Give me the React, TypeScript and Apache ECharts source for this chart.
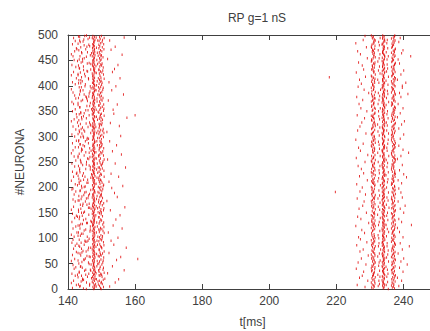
import React, { useEffect, useRef } from "react";
import * as echarts from "echarts";

const chartTitle = "RP g=1 nS";
const xName = "t[ms]";
const yName = "#NEURONA";
const xMin = 140;
const xMax = 250;
const xStep = 20;
const yMin = 0;
const yMax = 500;
const yStep = 50;

// Spike bands: each character is one neuron slot (bottom to top, 2 neurons per slot).
// Character 0-9a-z = position of the spike inside [start, end] (36 levels), "." = no spike.
const burst1L1 = { start: 141.0, end: 146.8, rows: [
  "r2.g9x0.4mk.t7b1e.zq5.8h3w.j0n6.ys2.c9l.4vf7.a1pu3",
  "w.5c0ia.ny3.8f.kt1z.q6b9.2md.0hx4.sl.7e3r.jv5.o8g1",
  "3.pb7.ue0m.z4k.9a2.yf.6wr1.h8.tc5n.0qi3.x7.lg2.d9sv",
  "m6.1j.oe8.k3zy.b0.5ra.w9h.2u7.fx.4c1t.s8.q6n.3gl0.i",
  "y.7d2.hv9.p0c.4sm.e8.1zw.b5k.r3.0jt6.a9.xn2.g7.u4fo",
] };
const burst1L2 = { start: 143.0, end: 147.0, rows: [
  "e.4u1.m8c.z0.9ks.3hw.b6.y2r.0fj.t7.5al.q9x.2g.8ni3.",
  ".o6.d1v.k5.w0.7mz.e3.4bs.9h.1yr.c6t.j0.8q.2fu.l5x.a",
  "g9.3n.7p2.i0.ze5.4k.w1c.8m.6s.v0.3t.yb9.1h.5r.j2.o7",
  "d.0x4.f8.q1.6lu.2a.9e.3g7.kz.5n0.w.8c.1ms.4t.v6.y3i",
  ".j7.b2.r9.0h.6p.x4.e1.o8c.3g.5w.z9.2k.7n.s0.d4f.u1m",
] };
const burst1Core = { start: 146.6, end: 148.8, rows: [
  "hkdmjqfaleoibngkcpjhmdlfgiekbjhnclfmdkgajehlcinfkb",
  "gjdmelhakfinbgcjekhldmfiagjcknehbldgmjfkaiechnjldg",
  "fkbmhjeldgcnakfihbjmedlgkfcjhnaeiblkgdmfjchelnkbig",
  "djhkfmaelgbincjkhfdmleagjbkhcnfidlegmjakbhfcilnejd",
  "mkgbhjfdlecianjkgmhfbldejcgkianhfmdjlbekgcihjnfald",
] };
const burst1Mid = { start: 148.3, end: 149.6, rows: [
  "..3.k..h.5...q.2..m...8.f..b....j.6...r..1.d...9..",
  ".g...4..n..c...7....p.0..i...e.3...l..5..a...h....",
  "k..2...o.9....f..6.j...b....4..m..1...s..c...8..e.",
  "...7.h...0..q...d..5....i.3...n...a..9...g...2..l.",
  "6...b..k....4..p...1.e...8...j..c....5..o...f..3..",
] };
const burst1R = { start: 149.2, end: 151.6, rows: [
  "a7k3.f9b2jq.e5c8n1.i4k6.d0h3j9.l2a7g5n.1db8m4.k0c6",
  "e3g9.n2i5d7m.h1l4c8.0g.a3b6k9m2.f5l7c0.g4a8b1.d6h3",
  "9jl5e2a7.0n4b8.1m6f3.c9g5i2n7.0k4d8h1.l6c3e9a5.b2k",
  "7d0m4h8j1.3c6e.9g2a5n7b0.k4m8f1l6.3e9i5b2.7d0h4j8.",
  "c1e6a3n9.5k2d7h0.j4c8e1.6a3i9b5.2d7m0f4.l8e1g6n3b",
] };
const burst1Tail = { start: 151.6, end: 158.8, rows: [
  "..4...c..h.....1..p...8.....e..k...3....s..a...6..",
  "g....2...m..9.....d...j....5..q.....0...f...b....7",
  ".n...3....h..6.....r...c...1....l..8.....e...4....",
  "k...0.....i..5....t...a...9....f...2.....o...7...d",
  "...3...j.....8..b...g.....1...m....6..c.....4..p..",
] };
const burst2E = { start: 225.8, end: 230.6, rows: [
  "..k.3...q..8.e...h..1...m.5...c..r...9.g...2..o..a",
  ".6...j..d...0..s...b.4...n...7..f...i..3...l..9...",
  "e..2...p...8..h...c..5...k...1..q...a..6...g...0..",
  "...m..4...9...d...j..3...o..b...7...f..2...s..i..5",
  "..c...8..l...1..h...e..6...p...a..4...n...0..g...k",
] };
const burst2F = { start: 229.5, end: 232.7, rows: [
  "gbkhdmalfjcnehgikbdlamfchjnekgbidmalhfcjkenbgdilah",
  "mfkcjb.eglahndikfbmcgjealhkd.nfibgmcjaekhldnbfigck",
  "dalmhejbgfk.cnidahmblgfejkcandhibm.gfkeljcahdnbgimf",
  "kjcaeh.lbdgnfmikcbjheaglm.dfnkbcihjaegmlfdkb.nchiaj",
  "geflbkdmhcan.ijgbfkedlhmacbgni.jfkdhelbamcgjinkfdha",
] };
const burst2M2 = { start: 232.3, end: 233.5, rows: [
  "...5.g..b...k.2...h....9..d.m...1..f...q..7..c....",
  "a..4...j.....8..e...n..0....i..6...l...3..h....b..",
  "..o...2..9....f..c...k...5.....m..1...g...d..7....",
  ".e...3...j..0....h..a....8..n...4...c...i..6..p...",
  "...b..1.....l..7...g....2..d...k...5....f..9...m..",
] };
const burst2Core = { start: 233.0, end: 235.2, rows: [
  "ifkcmhdgajlebnkgicfhmdajelbhkgnfciadmjekhlbgfacind",
  "jhcekfmbgalidnhcjkfebmgdialhcnkjbfgemadhlcikgbjfna",
  "ehkbdjlgafcminehkjdgblafcmhineckgjdbaflhmkcegijdbn",
  "lcgaihkfdbmejnclgkahidfmbejcnlhgkaidfebmjclhgnkadi",
  "bgmjdeckhfialnbgjmcdkehfailbnmjgcdehkfliabgnjmcekd",
] };
const burst2M3 = { start: 234.8, end: 236.0, rows: [
  "k...2..e....7..h...c..0....m...5..f...j...9..a....",
  "..4...n..b...1....g...6..d....q..3...i..8....l....",
  "5....c..h...0..k....9...e..2...o....a..7...f...j..",
  "...m..6....b..3...i...8..d.....1..n...4...g..c....",
  ".h...0...l....5..e...a....9..k...2...f....7..b....",
] };
const burst2H = { start: 235.5, end: 238.7, rows: [
  "kdhaifcmgbjelnhcfkadigmbejchnlfakdgimbhcejfnlkagdi",
  "bmhjcefgkaldinbhfmjcegkdailnhbfjmcgekdalbihnfcjmge",
  "lkadbhifcgmejnkdlahbifcgjmenkhdlbaicfgjmekhndlaibf",
  "gaekdmbhjcfilnagkdembhcjfilgnkaedbmhjcfignlakdhebm",
  "jfcialgnkbdhemcjfiagklnbdhecjmfiakglnbdehcjfmiagkl",
] };
const burst2Tail = { start: 238.2, end: 245.5, rows: [
  "...2....6..0.....8...3..e..5..9....1...7..h..4....",
  ".8....3...0..k..6..2.....9...4..b...1...7....5...2",
  "....6..1..d..9...3....7.....0..5..g..8...2......4.",
  "..9.....2...6..a...0...4....8...1......5..f3....7.",
  "7..c..0....5...9......3...1..j..6..8.......2...4..",
] };
const strayTimes = [217.9, 219.7, 160.8, 160.0];
const strayNeurons = [417, 191, 59, 342];

const bands = [
  burst1L1, burst1L2, burst1Core, burst1Mid, burst1R, burst1Tail,
  burst2E, burst2F, burst2M2, burst2Core, burst2M3, burst2H, burst2Tail,
];
const LEVELS = "0123456789abcdefghijklmnopqrstuvwxyz";

function decodeBand(band: { start: number; end: number; rows: string[] }, parity: number) {
  const s = band.rows.join("");
  const pts: number[][] = [];
  for (let i = 0; i < s.length; i++) {
    const lv = LEVELS.indexOf(s[i]);
    if (lv < 0) continue;
    const t = band.start + (lv * (band.end - band.start)) / (LEVELS.length - 1);
    const n = Math.min(500, Math.round((i * 500) / s.length) + parity);
    pts.push([t, n]);
  }
  return pts;
}

export default function App() {
  const ref = useRef<HTMLDivElement>(null);
  useEffect(() => {
    if (!ref.current) return;
    const chart = echarts.init(ref.current, undefined, { renderer: "svg" });
    const data: number[][] = [];
    bands.forEach((b, k) => data.push(...decodeBand(b, k % 2)));
    strayTimes.forEach((t, i) => data.push([t, strayNeurons[i]]));
    const font = "Liberation Sans, Arial, sans-serif";
    const textColor = "#404040";
    const axisColor = "#404040";
    chart.setOption({
      animation: false,
      backgroundColor: "#ffffff",
      title: {
        text: chartTitle,
        left: 252,
        textAlign: "center",
        top: 7,
        textStyle: { fontSize: 12, fontWeight: "normal", color: textColor, fontFamily: font },
      },
      grid: { left: 68, top: 35, bottom: 42, right: -7, containLabel: false, outerBoundsMode: "none" },
      xAxis: [
        {
          type: "value",
          min: xMin,
          max: xMax,
          interval: xStep,
          position: "bottom",
          name: xName,
          nameLocation: "middle",
          nameGap: 27,
          nameTextStyle: { fontSize: 12, color: textColor, fontFamily: font },
          axisLine: { show: true, onZero: false, lineStyle: { color: axisColor, width: 1 } },
          axisTick: { show: true, inside: true, length: 5, lineStyle: { color: axisColor } },
          axisLabel: { color: textColor, fontSize: 12, fontFamily: font, margin: 6, showMaxLabel: false },
          splitLine: { show: false },
        },
        {
          type: "value",
          min: xMin,
          max: xMax,
          interval: xStep,
          position: "top",
          axisLine: { show: true, onZero: false, lineStyle: { color: axisColor, width: 1 } },
          axisTick: { show: true, inside: true, length: 5, lineStyle: { color: axisColor } },
          axisLabel: { show: false },
          splitLine: { show: false },
        },
      ],
      yAxis: {
        type: "value",
        min: yMin,
        max: yMax,
        interval: yStep,
        name: yName,
        nameLocation: "middle",
        nameRotate: 90,
        nameGap: 42,
        nameTextStyle: { fontSize: 12, color: textColor, fontFamily: font },
        axisLine: { show: true, onZero: false, lineStyle: { color: axisColor, width: 1 } },
        axisTick: { show: true, inside: true, length: 5, lineStyle: { color: axisColor } },
        axisLabel: { color: textColor, fontSize: 12, fontFamily: font, margin: 10 },
        splitLine: { show: false },
      },
      series: [
        {
          type: "scatter",
          xAxisIndex: 0,
          data,
          symbol: "rect",
          symbolSize: [1, 2.5],
          itemStyle: { color: "#e00000" },
          clip: true,
          silent: true,
        },
      ],
    });
    return () => chart.dispose();
  }, []);
  return <div ref={ref} style={{ position: "fixed", left: 0, top: 0, width: 430, height: 331 }} />;
}
